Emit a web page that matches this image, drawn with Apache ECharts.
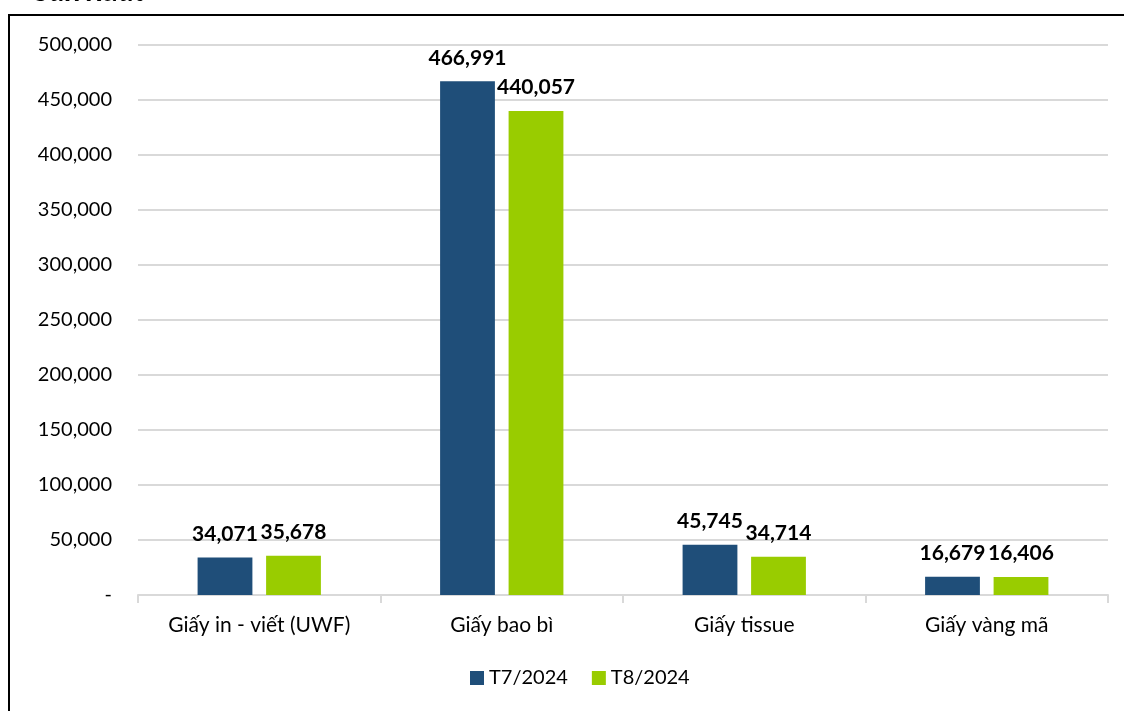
<!DOCTYPE html>
<html><head><meta charset="utf-8">
<script src="https://cdn.jsdelivr.net/npm/echarts@6/dist/echarts.min.js"></script>
<style>html,body{margin:0;padding:0;background:#fff}#c{width:1124px;height:711px}</style>
</head><body><div id="c"></div>
<script>
const categories = ['Giấy in - viết (UWF)', 'Giấy bao bì', 'Giấy tissue', 'Giấy vàng mã'];
const seriesNames = ['T7/2024', 'T8/2024'];
const t7 = [34071, 466991, 45745, 16679];
const t8 = [35678, 440057, 34714, 16406];
const titleText = 'Sản xuất';

const FONT = 'Lato, "Noto Sans", sans-serif';
const fmt = v => v === 0 ? '-' : v.toLocaleString('en-US');
const chart = echarts.init(document.getElementById('c'));
const lbl = {show: true, position: 'top', distance: 13, color: '#000', fontWeight: 'bold', fontSize: 21, fontFamily: FONT, formatter: p => fmt(p.value)};
chart.setOption({
  animation: false,
  textStyle: {fontFamily: FONT},
  graphic: [
    {type: 'rect', shape: {x: 9, y: 15, width: 1140, height: 720}, style: {fill: 'none', stroke: '#000', lineWidth: 2}},
    {type: 'text', left: 34, top: -24, style: {text: titleText, font: 'bold italic 30px ' + FONT, fill: '#000'}}
  ],
  grid: {left: 138, right: 16, top: 45, bottom: 116},
  legend: {bottom: 18, left: 465, itemWidth: 14, itemHeight: 14, itemGap: 24, icon: 'rect',
    textStyle: {fontSize: 20, color: '#000', fontFamily: FONT}, data: seriesNames},
  xAxis: {type: 'category', data: categories,
    axisLine: {lineStyle: {color: '#d9d9d9', width: 2}},
    axisTick: {show: true, length: 8, lineStyle: {color: '#d9d9d9', width: 2}},
    axisLabel: {fontSize: 21, color: '#000', margin: 20, fontFamily: FONT}},
  yAxis: {type: 'value', min: 0, max: 500000, interval: 50000,
    splitLine: {lineStyle: {color: '#d9d9d9', width: 2}},
    axisLabel: {fontSize: 20, color: '#000', margin: 26, formatter: fmt, fontFamily: FONT}},
  series: [
    {name: seriesNames[0], type: 'bar', data: t7, barWidth: '22.6%', barGap: '25%', itemStyle: {color: '#1F4E79'}, label: lbl},
    {name: seriesNames[1], type: 'bar', data: t8, barWidth: '22.6%', barGap: '25%', itemStyle: {color: '#99CC00'}, label: lbl}
  ]
});
</script></body></html>
